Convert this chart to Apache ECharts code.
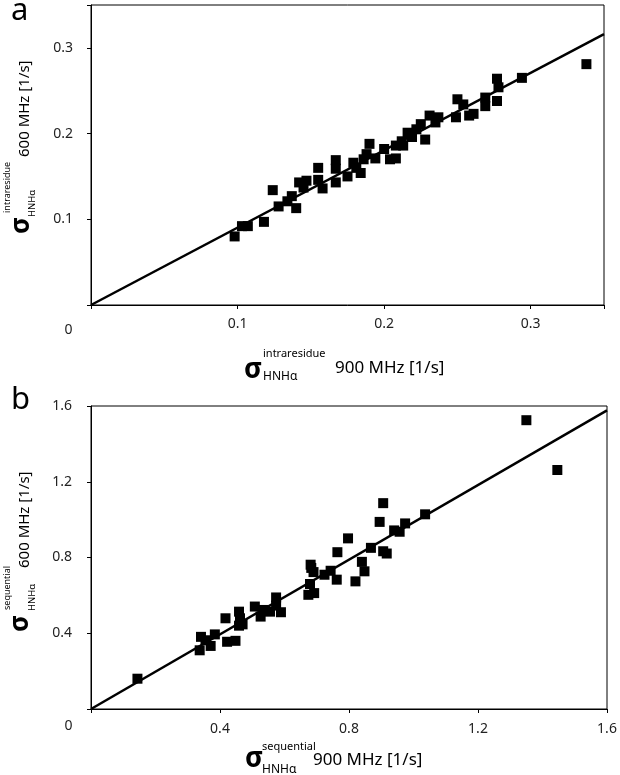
<!DOCTYPE html>
<html><head><meta charset="utf-8">
<script src="https://cdn.jsdelivr.net/npm/echarts@6/dist/echarts.min.js"></script>
<style>html,body{margin:0;padding:0;background:#fff}#c{width:620px;height:775px}</style>
</head><body><div id="c"></div>
<script>
// Panel a: intraresidue cross-relaxation rates
const intraX900 = [0.098,0.103,0.107,0.118,0.124,0.128,0.134,0.137,0.140,0.142,0.147,0.145,0.155,0.155,0.158,0.167,0.167,0.167,0.175,0.179,0.181,0.184,0.186,0.188,0.190,0.194,0.200,0.204,0.208,0.208,0.212,0.213,0.216,0.219,0.222,0.225,0.228,0.231,0.235,0.237,0.250,0.249,0.254,0.258,0.261,0.269,0.269,0.277,0.277,0.278,0.294,0.338];
const intraY600 = [0.080,0.092,0.092,0.097,0.134,0.115,0.121,0.127,0.113,0.143,0.145,0.137,0.160,0.146,0.136,0.169,0.159,0.143,0.150,0.166,0.160,0.154,0.170,0.176,0.188,0.171,0.182,0.170,0.171,0.186,0.191,0.186,0.201,0.196,0.205,0.211,0.193,0.221,0.213,0.219,0.240,0.219,0.234,0.221,0.223,0.232,0.242,0.238,0.264,0.254,0.265,0.281];
// Panel b: sequential cross-relaxation rates
const seqX900 = [0.144,0.337,0.341,0.355,0.371,0.384,0.417,0.422,0.448,0.459,0.462,0.459,0.470,0.508,0.526,0.534,0.555,0.574,0.574,0.589,0.674,0.679,0.681,0.683,0.692,0.690,0.724,0.743,0.762,0.764,0.797,0.820,0.840,0.848,0.868,0.906,0.917,0.895,0.906,0.940,0.957,0.974,1.036,1.350,1.446];
const seqY600 = [0.160,0.310,0.381,0.363,0.333,0.394,0.479,0.355,0.360,0.514,0.479,0.440,0.447,0.541,0.488,0.523,0.514,0.589,0.546,0.511,0.603,0.660,0.762,0.745,0.612,0.723,0.709,0.730,0.683,0.828,0.901,0.674,0.777,0.727,0.851,0.833,0.821,0.988,1.087,0.943,0.936,0.980,1.028,1.525,1.262];
// Fit lines (through origin)
const fitAX = [0, 0.35];
const fitAY = [0, 0.316];
const fitBX = [0, 1.6];
const fitBY = [0, 1.577];
// Tick labels
const ticksA = [0.1, 0.2, 0.3];
const ticksB = [0.4, 0.8, 1.2, 1.6];
const originLabel = '0';
const panelLabels = ['a', 'b'];
const sigmaSym = '\u03C3';
const subText = 'HNH\u03B1';
const supA = 'intraresidue';
const supB = 'sequential';
const unitX = '900 MHz [1/s]';
const unitY = '600 MHz [1/s]';

const FF = '"Noto Sans", "DejaVu Sans", sans-serif';
const pairs = (xs, ys) => xs.map((x, i) => [x, ys[i]]);
const fmt = ticks => v => ticks.some(t => Math.abs(t - v) < 1e-9) ? v.toFixed(1) : '';

function axisCommon(grid, max, ticks, interval, margin) {
  return {
    gridIndex: grid, type: 'value', min: 0, max: max, interval: interval,
    axisLine: {show: true, onZero: false, lineStyle: {color: '#000', width: 1}},
    axisTick: {show: true, inside: false, length: 4, lineStyle: {color: '#000', width: 1}},
    axisLabel: {margin: margin, fontSize: 14, fontFamily: FF, color: '#222', formatter: fmt(ticks)},
    splitLine: {show: false}
  };
}

function txt(x, y, text, size, rot, align, weight) {
  return {
    type: 'text', x: x, y: y, rotation: rot || 0, silent: true,
    style: {text: text, font: (weight || 'normal') + ' ' + size + 'px ' + FF, fill: '#000',
      align: align || 'left', verticalAlign: 'middle',
      textAlign: align || 'left', textVerticalAlign: 'middle'}
  };
}
const R = Math.PI / 2;

const graphics = [
  txt(11, 11, panelLabels[0], 31),
  txt(11, 400, panelLabels[1], 31),
  txt(68.5, 330, originLabel, 14, 0, 'center'),
  txt(68.5, 726, originLabel, 14, 0, 'center'),
  // panel a x title
  txt(244, 370, sigmaSym, 28, 0, 'left', 'bold'), txt(263, 353.5, supA, 11), txt(263, 377, subText, 12), txt(335, 368, unitX, 17),
  // panel b x title
  txt(245, 759, sigmaSym, 28, 0, 'left', 'bold'), txt(262, 747, supB, 11), txt(262, 770, subText, 12), txt(313, 760.5, unitX, 17),
  // panel a y title (rotated)
  txt(22, 234, sigmaSym, 26, R, 'left', 'bold'), txt(7, 213, supA, 9, R), txt(32.5, 217, subText, 9.5, R), txt(25, 157, unitY, 15, R),
  // panel b y title (rotated)
  txt(21, 632, sigmaSym, 26, R, 'left', 'bold'), txt(7, 610, supB, 9, R), txt(32, 611, subText, 9.5, R), txt(25, 568, unitY, 15, R)
];
graphics.forEach(g => { g.style.fill = g.style.text === originLabel ? '#222' : '#000'; });

const chart = echarts.init(document.getElementById('c'), null, {renderer: 'canvas'});
chart.setOption({
  animation: false,
  backgroundColor: '#fff',
  grid: [
    {left: 91, top: 5, width: 513, height: 300, show: true, borderColor: '#000', borderWidth: 1, backgroundColor: 'transparent'},
    {left: 91, top: 406, width: 516, height: 303, show: true, borderColor: '#000', borderWidth: 1, backgroundColor: 'transparent'}
  ],
  xAxis: [axisCommon(0, 0.35, ticksA, 0.1, 12), axisCommon(1, 1.6, ticksB, 0.4, 13)],
  yAxis: [axisCommon(0, 0.35, ticksA, 0.1, 18), axisCommon(1, 1.6, ticksB, 0.4, 19)],
  series: [
    {type: 'line', xAxisIndex: 0, yAxisIndex: 0, data: pairs(fitAX, fitAY), showSymbol: false, symbol: 'none', silent: true,
      lineStyle: {color: '#000', width: 2.5}, z: 2},
    {type: 'scatter', xAxisIndex: 0, yAxisIndex: 0, data: pairs(intraX900, intraY600), symbol: 'rect', symbolSize: 10,
      itemStyle: {color: '#000', opacity: 1}, z: 3},
    {type: 'line', xAxisIndex: 1, yAxisIndex: 1, data: pairs(fitBX, fitBY), showSymbol: false, symbol: 'none', silent: true,
      lineStyle: {color: '#000', width: 2.5}, z: 2},
    {type: 'scatter', xAxisIndex: 1, yAxisIndex: 1, data: pairs(seqX900, seqY600), symbol: 'rect', symbolSize: 10,
      itemStyle: {color: '#000', opacity: 1}, z: 3}
  ],
  graphic: {elements: graphics}
});
</script>
</body></html>
